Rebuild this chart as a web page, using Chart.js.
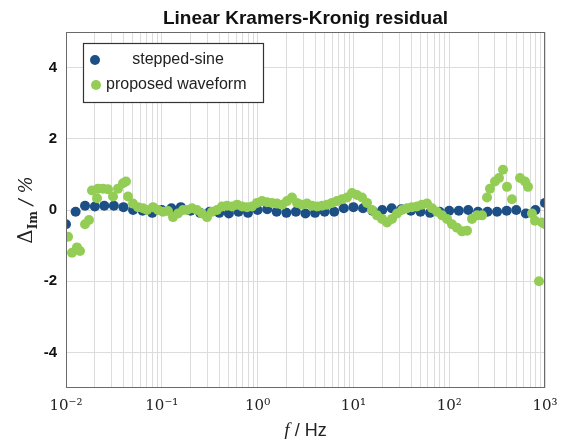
<!DOCTYPE html>
<html><head><meta charset="utf-8">
<script src="https://cdn.jsdelivr.net/npm/chart.js@4.4.1/dist/chart.umd.min.js"></script>
<style>html,body{margin:0;padding:0;background:#fff}</style>
</head><body><canvas id="c" width="561" height="439"></canvas>
<script>
const chartTitle = 'Linear Kramers-Kronig residual';
const seriesNames = ['stepped-sine', 'proposed waveform'];
const xTickValues = [0.01, 0.1, 1, 10, 100, 1000];
const xTickLabels = ['10⁻²', '10⁻¹', '10⁰', '10¹', '10²', '10³'];
const yTickValues = [-4, -2, 0, 2, 4];

const steppedFreq = [0.01,0.0126,0.0158,0.02,0.0251,0.0316,0.0398,0.0501,0.0631,0.0794,
  0.1,0.126,0.158,0.2,0.251,0.316,0.398,0.501,0.631,0.794,
  1,1.26,1.58,2,2.51,3.16,3.98,5.01,6.31,7.94,
  10,12.6,15.8,20,25.1,31.6,39.8,50.1,63.1,79.4,
  100,126,158,200,251,316,398,501,631,794,1000];
const steppedVals = [-0.4,-0.05,0.12,0.1,0.12,0.12,0.08,0.0,-0.02,-0.08,
  0.0,0.05,0.08,-0.02,-0.08,-0.05,-0.08,-0.1,-0.05,-0.08,
  0.0,0.02,-0.05,-0.08,-0.05,-0.1,-0.08,-0.05,-0.05,0.05,
  0.08,0.05,-0.02,0.0,0.05,0.02,-0.02,-0.05,-0.08,-0.05,
  -0.02,-0.02,0.0,-0.05,-0.05,-0.05,-0.02,0.0,-0.1,0.0,0.2];

const proposedFreq = [0.0105,0.01155,0.01302,0.014,0.01579,0.01738,0.01867,0.02107,0.02158,0.02433,
  0.02744,0.03095,0.0349,0.03936,0.04228,0.04437,0.05004,0.05644,0.06365,0.07008,
  0.08092,0.09127,0.1029,0.1161,0.1309,0.1476,0.1665,0.1832,0.2066,0.2331,
  0.2628,0.2964,0.3342,0.377,0.4251,0.4795,0.5407,0.6098,0.6877,0.7754,
  0.874,0.9856,1.111,1.253,1.413,1.594,1.797,2.027,2.286,2.578,
  2.907,3.279,3.697,4.169,4.701,5.302,5.979,6.743,7.603,8.575,
  9.67,10.9,12.3,13.87,15.64,17.63,19.89,22.43,25.29,28.52,
  32.16,36.27,40.9,46.12,52.02,58.66,66.15,74.6,84.12,94.85,
  107,120.6,136,153.4,173,195.1,220,248.1,266.6,300.7,
  331,364.4,401.2,452.4,548.3,618.3,664.3,731.5,786.2,865.6,930.5,1000];
const proposedVals = [-0.75,-1.2,-1.05,-1.15,-0.4,-0.28,0.55,0.33,0.6,0.6,
  0.58,0.38,0.6,0.75,0.8,0.38,0.18,0.08,0.05,0.0,
  0.08,0.0,-0.05,-0.03,-0.2,-0.1,0.0,0.0,0.05,0.0,
  -0.1,-0.2,-0.05,0.0,0.1,0.12,0.1,0.15,0.1,0.08,
  0.1,0.2,0.25,0.22,0.2,0.18,0.15,0.25,0.35,0.2,
  0.15,0.18,0.12,0.1,0.12,0.15,0.2,0.25,0.3,0.35,
  0.48,0.42,0.35,0.2,0.0,-0.15,-0.25,-0.35,-0.25,-0.1,
  0.0,0.05,0.08,0.1,0.15,0.18,0.05,-0.05,-0.15,-0.25,
  -0.4,-0.5,-0.6,-0.58,-0.25,-0.15,-0.15,0.35,0.6,0.8,
  0.9,1.13,0.65,0.3,0.9,0.8,0.65,-0.1,-0.3,-2.0,-0.35,-0.4];

const BLUE = '#1b4f86';
const GREEN = '#93cd55';

const toPts = (xs, ys) => xs.map((x, i) => ({x: x, y: ys[i]}));

const decorPlugin = {
  id: 'decor',
  afterDraw(chart) {
    const c = chart.ctx, a = chart.chartArea;
    c.save();
    // frame
    c.strokeStyle = '#6a6a6a'; c.lineWidth = 1;
    c.strokeRect(Math.round(a.left) + 0.5, Math.round(a.top) + 0.5, Math.round(a.right - a.left) - 1, Math.round(a.bottom - a.top) - 1);
    // title
    c.fillStyle = '#111';
    c.font = 'bold 19px "Liberation Sans", Arial, sans-serif';
    c.textAlign = 'center'; c.textBaseline = 'middle';
    c.fillText(chartTitle, (a.left + a.right) / 2, 19);
    // legend
    const lx = 83, ly = 43, lw = 180, lh = 59;
    c.fillStyle = '#fff'; c.fillRect(lx, ly, lw, lh);
    c.strokeStyle = '#333'; c.lineWidth = 1.2; c.strokeRect(lx + 0.5, ly + 0.5, lw, lh);
    c.fillStyle = BLUE; c.beginPath(); c.arc(95, 60, 5, 0, Math.PI * 2); c.fill();
    c.fillStyle = GREEN; c.beginPath(); c.arc(96, 85, 5, 0, Math.PI * 2); c.fill();
    c.fillStyle = '#222'; c.font = '16px "Liberation Sans", Arial, sans-serif';
    c.textBaseline = 'middle';
    c.textAlign = 'center'; c.fillText(seriesNames[0], 178, 60);
    c.textAlign = 'left'; c.fillText(seriesNames[1], 106, 85);
    // x axis label
    const fFont = 'italic 19px "Liberation Serif", serif';
    const hFont = '18px "Liberation Sans", Arial, sans-serif';
    c.font = fFont; const w1 = c.measureText('f').width;
    c.font = hFont; const w2 = c.measureText(' / Hz').width;
    let x0 = (a.left + a.right) / 2 - (w1 + w2) / 2;
    c.textAlign = 'left'; c.textBaseline = 'alphabetic'; c.fillStyle = '#222';
    c.font = fFont; c.fillText('f', x0, 436);
    c.font = hFont; c.fillText(' / Hz', x0 + w1, 436);
    // y axis label (rotated)
    c.translate(32, 210); c.rotate(-Math.PI / 2);
    const dF = '20px "DejaVu Serif", serif';
    const sF = 'bold 12px "DejaVu Serif", serif';
    const pF = 'italic 18px "DejaVu Serif", serif';
    c.font = dF; const d1 = c.measureText('Δ').width;
    c.font = sF; const d2 = c.measureText('Im').width;
    c.font = pF; const d3 = c.measureText(' / %').width;
    let s = -(d1 + d2 + d3) / 2;
    c.font = dF; c.fillText('Δ', s, 0);
    c.font = sF; c.fillText('Im', s + d1, 5);
    c.font = pF; c.fillText(' / %', s + d1 + d2, 0);
    c.restore();
  }
};

new Chart(document.getElementById('c'), {
  type: 'scatter',
  data: {
    datasets: [
      {label: seriesNames[0], data: toPts(steppedFreq, steppedVals), backgroundColor: BLUE, borderColor: BLUE, pointRadius: 5, pointBorderWidth: 0, order: 1},
      {label: seriesNames[1], data: toPts(proposedFreq, proposedVals), backgroundColor: GREEN, borderColor: GREEN, pointRadius: 5, pointBorderWidth: 0, order: 0}
    ]
  },
  options: {
    responsive: false, animation: false, devicePixelRatio: 1,
    layout: {padding: {left: 0, right: 16, top: 32, bottom: 0}},
    plugins: {legend: {display: false}, title: {display: false}, tooltip: {enabled: false}},
    scales: {
      x: {
        type: 'logarithmic', min: 0.01, max: 1000,
        afterBuildTicks: (s) => {
          const t = [];
          for (let d = 0; d < xTickValues.length - 1; d++)
            for (let m = 1; m <= 9; m++) t.push({value: xTickValues[d] * m});
          t.push({value: xTickValues[xTickValues.length - 1]});
          s.ticks = t;
        },
        ticks: {
          autoSkip: false, maxRotation: 0, minRotation: 0, padding: 9, color: '#222',
          font: {family: '"DejaVu Serif", serif', size: 15},
          callback: (v) => {
            for (let i = 0; i < xTickValues.length; i++)
              if (Math.abs(Math.log10(v) - Math.log10(xTickValues[i])) < 1e-6) return xTickLabels[i];
            return '';
          }
        },
        grid: {color: '#dcdcdc', drawTicks: false},
        border: {display: false},
        afterFit: (s) => { s.height = 51; s.paddingLeft = 0; s.paddingRight = 0; }
      },
      y: {
        min: -5, max: 5,
        afterBuildTicks: (s) => { s.ticks = yTickValues.map(v => ({value: v})); },
        ticks: {padding: 9, color: '#111', font: {family: '"Liberation Sans", Arial, sans-serif', weight: 'bold', size: 15}},
        grid: {color: '#dcdcdc', drawTicks: false},
        border: {display: false},
        afterFit: (s) => { s.width = 66; s.paddingTop = 0; s.paddingBottom = 0; }
      }
    }
  },
  plugins: [decorPlugin]
});
</script>
</body></html>
